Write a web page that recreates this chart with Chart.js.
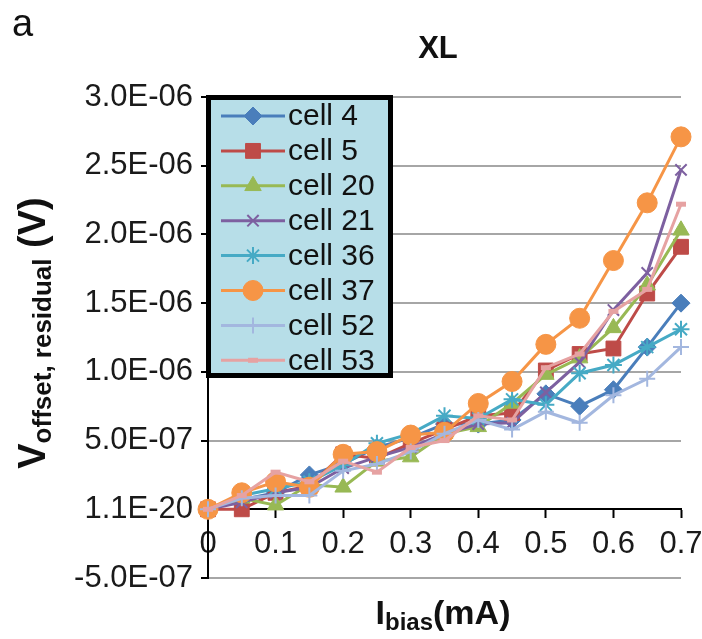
<!DOCTYPE html>
<html><head><meta charset="utf-8">
<script src="https://cdn.jsdelivr.net/npm/chart.js@4.4.1/dist/chart.umd.min.js"></script>
<style>html,body{margin:0;padding:0;background:#fff;}canvas{display:block;}</style>
</head><body>
<canvas id="c" width="702" height="639"></canvas>
<script>
// ---- data (x in mA, y in V) ----
const currents = [0, 0.05, 0.1, 0.15, 0.2, 0.25, 0.3, 0.35, 0.4, 0.45, 0.5, 0.55, 0.6, 0.65, 0.7];
const cell4  = [0, 0.07e-6, 0.12e-6, 0.25e-6, 0.33e-6, 0.45e-6, 0.52e-6, 0.62e-6, 0.62e-6, 0.65e-6, 0.84e-6, 0.75e-6, 0.87e-6, 1.18e-6, 1.50e-6];
const cell5  = [0, 0.00e-6, 0.12e-6, 0.17e-6, 0.40e-6, 0.37e-6, 0.48e-6, 0.58e-6, 0.68e-6, 0.70e-6, 1.01e-6, 1.13e-6, 1.17e-6, 1.57e-6, 1.91e-6];
const cell20 = [0, 0.08e-6, 0.03e-6, 0.18e-6, 0.16e-6, 0.35e-6, 0.38e-6, 0.55e-6, 0.60e-6, 0.77e-6, 0.98e-6, 1.10e-6, 1.32e-6, 1.63e-6, 2.03e-6];
const cell21 = [0, 0.05e-6, 0.12e-6, 0.16e-6, 0.30e-6, 0.38e-6, 0.45e-6, 0.55e-6, 0.62e-6, 0.63e-6, 0.85e-6, 1.07e-6, 1.45e-6, 1.72e-6, 2.47e-6];
const cell36 = [0, 0.10e-6, 0.15e-6, 0.20e-6, 0.32e-6, 0.48e-6, 0.55e-6, 0.68e-6, 0.66e-6, 0.80e-6, 0.76e-6, 0.99e-6, 1.05e-6, 1.18e-6, 1.31e-6];
const cell37 = [0, 0.12e-6, 0.20e-6, 0.16e-6, 0.40e-6, 0.42e-6, 0.54e-6, 0.56e-6, 0.77e-6, 0.93e-6, 1.20e-6, 1.39e-6, 1.81e-6, 2.23e-6, 2.71e-6];
const cell52 = [0, 0.08e-6, 0.10e-6, 0.10e-6, 0.28e-6, 0.33e-6, 0.42e-6, 0.55e-6, 0.65e-6, 0.58e-6, 0.71e-6, 0.63e-6, 0.83e-6, 0.95e-6, 1.18e-6];
const cell53 = [0, 0.10e-6, 0.27e-6, 0.20e-6, 0.35e-6, 0.27e-6, 0.45e-6, 0.50e-6, 0.68e-6, 0.65e-6, 1.03e-6, 1.13e-6, 1.44e-6, 1.60e-6, 2.22e-6];
const seriesNames = ["cell 4", "cell 5", "cell 20", "cell 21", "cell 36", "cell 37", "cell 52", "cell 53"];
const xTickLabels = ["0", "0.1", "0.2", "0.3", "0.4", "0.5", "0.6", "0.7"];
const yTickLabels = ["-5.0E-07", "1.1E-20", "5.0E-07", "1.0E-06", "1.5E-06", "2.0E-06", "2.5E-06", "3.0E-06"];
const chartTitle = "XL";
const panelLabel = "a";

// ---- styles ----
const seriesValues = [cell4, cell5, cell20, cell21, cell36, cell37, cell52, cell53];
const colors = ["#4a7ebb", "#be4b48", "#98b954", "#7d60a0", "#46aac5", "#f69546", "#a3b7df", "#e6a2a2"];
const pStyles = ["rectRot", "rect", "triangle", "crossRot", "star", "circle", "cross", "line"];
const pRadius = [9, 10.5, 9.5, 8, 8.5, 10, 8, 5];
const pBorder = [1, 1, 1, 2, 2, 1, 2, 5];
const FONT = "'Liberation Sans', Arial, sans-serif";

const datasets = seriesNames.map((name, i) => ({
  label: name,
  data: currents.map((x, k) => ({x: x, y: seriesValues[i][k]})),
  borderColor: colors[i],
  backgroundColor: colors[i],
  pointBackgroundColor: colors[i],
  pointBorderColor: colors[i],
  pointStyle: pStyles[i],
  pointRadius: pRadius[i],
  pointBorderWidth: pBorder[i],
  borderWidth: 3,
  tension: 0,
  clip: false,
  order: seriesNames.length - i
}));

function drawMarker(ctx, i, x, y) {
  ctx.save();
  ctx.fillStyle = colors[i];
  ctx.strokeStyle = colors[i];
  ctx.lineWidth = pBorder[i];
  if (Chart.helpers && Chart.helpers.drawPoint) {
    Chart.helpers.drawPoint(ctx, {pointStyle: pStyles[i], radius: pRadius[i], borderWidth: pBorder[i], rotation: 0}, x, y);
  } else {
    ctx.beginPath(); ctx.arc(x, y, pRadius[i], 0, Math.PI * 2); ctx.fill();
  }
  ctx.restore();
}

const decor = {
  id: 'decor',
  beforeDraw(chart) {
    const c = chart.ctx; c.save(); c.fillStyle = '#fff'; c.fillRect(0, 0, chart.width, chart.height); c.restore();
  },
  afterDatasetsDraw(chart) {
    const c = chart.ctx;
    c.save();
    c.fillStyle = '#b7dee8';
    c.fillRect(208, 97, 183, 279);
    c.lineWidth = 5; c.strokeStyle = '#000';
    c.strokeRect(208.5, 97.5, 182, 278);
    c.font = "30px " + FONT;
    c.textBaseline = 'middle';
    c.textAlign = 'left';
    seriesNames.forEach((name, i) => {
      const y = 116 + i * 34.9;
      c.strokeStyle = colors[i]; c.lineWidth = 3;
      c.beginPath(); c.moveTo(221, y); c.lineTo(285, y); c.stroke();
      drawMarker(c, i, 253, y);
      c.fillStyle = '#111';
      c.fillText(name, 288, y + 1);
    });
    c.restore();
  },
  afterDraw(chart) {
    const c = chart.ctx;
    c.save();
    c.fillStyle = '#111';
    c.font = "38px " + FONT; c.textAlign = 'left'; c.textBaseline = 'alphabetic';
    c.fillText(panelLabel, 12, 36);
    c.font = "bold 31px " + FONT; c.textAlign = 'center';
    c.fillText(chartTitle, 438, 58);
    c.textAlign = 'left';
    const xParts = [["I", "bold 34px " + FONT, 0], ["bias", "bold 24px " + FONT, 6], ["(mA)", "bold 34px " + FONT, 0]];
    let tw = 0; xParts.forEach(p => { c.font = p[1]; tw += c.measureText(p[0]).width; });
    let x = 443 - tw / 2;
    xParts.forEach(p => { c.font = p[1]; c.fillText(p[0], x, 624 + p[2]); x += c.measureText(p[0]).width; });
    const yParts = [["V", "bold 38px " + FONT, 0], ["offset, residual", "bold 26px " + FONT, 6], [" (V)", "bold 38px " + FONT, 0]];
    tw = 0; yParts.forEach(p => { c.font = p[1]; tw += c.measureText(p[0]).width; });
    c.translate(45, 333 + tw / 2);
    c.rotate(-Math.PI / 2);
    x = 0;
    yParts.forEach(p => { c.font = p[1]; c.fillText(p[0], x, p[2]); x += c.measureText(p[0]).width; });
    c.restore();
  }
};

new Chart(document.getElementById('c'), {
  type: 'line',
  data: {datasets: datasets},
  plugins: [decor],
  options: {
    responsive: false,
    animation: false,
    devicePixelRatio: 1,
    layout: {padding: {top: 97, right: 21, bottom: 61, left: 0}},
    plugins: {legend: {display: false}, title: {display: false}, tooltip: {enabled: false}},
    scales: {
      x: {
        type: 'linear',
        position: {y: 0},
        min: 0, max: 0.7,
        afterFit: s => { s.height = 0; s.paddingLeft = 0; s.paddingRight = 0; s.paddingTop = 0; s.paddingBottom = 0; },
        border: {color: '#000', width: 2},
        grid: {drawOnChartArea: false, drawTicks: true, tickLength: 8, tickColor: '#000', tickWidth: 2},
        ticks: {
          stepSize: 0.1, autoSkip: false, maxRotation: 0, padding: 9,
          color: '#1a1a1a', font: {family: FONT, size: 31},
          callback: (v, i) => xTickLabels[i]
        }
      },
      y: {
        type: 'linear',
        min: -5e-7, max: 3e-6,
        afterFit: s => { s.width = 208; s.paddingTop = 0; s.paddingBottom = 0; },
        border: {color: '#000', width: 2},
        grid: {color: '#a6a6a6', lineWidth: 2, tickLength: 7, tickColor: '#000', tickWidth: 2},
        ticks: {
          stepSize: 5e-7, autoSkip: false, padding: 8,
          color: '#1a1a1a', font: {family: FONT, size: 31},
          callback: (v, i) => yTickLabels[i]
        }
      }
    }
  }
});
</script>
</body></html>
